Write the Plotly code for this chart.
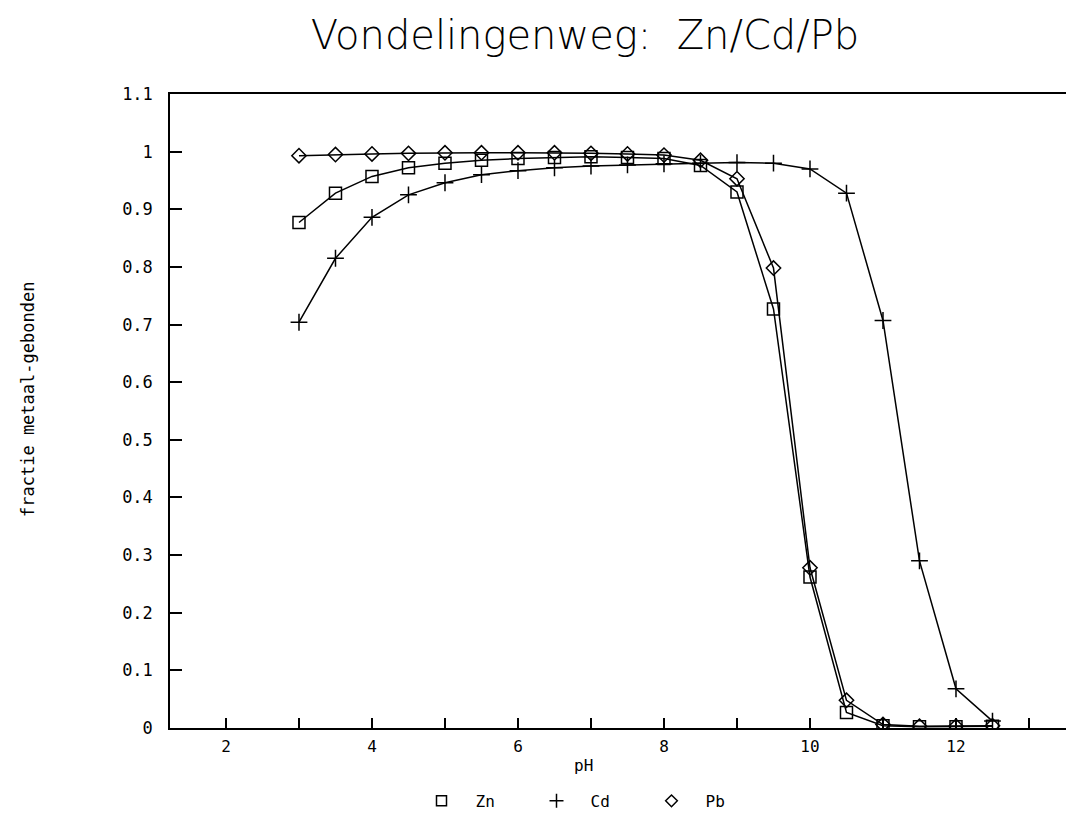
import plotly.graph_objects as go

ph = [3, 3.5, 4, 4.5, 5, 5.5, 6, 6.5, 7, 7.5, 8, 8.5, 9, 9.5, 10, 10.5, 11, 11.5, 12, 12.5]
zn = [0.877, 0.928, 0.957, 0.972, 0.980, 0.985, 0.988, 0.990, 0.991, 0.990, 0.988, 0.976,
      0.930, 0.727, 0.262, 0.027, 0.004, 0.002, 0.002, 0.003]
cd = [0.704, 0.815, 0.886, 0.925, 0.946, 0.960, 0.967, 0.972, 0.975, 0.977, 0.979, 0.980,
      0.981, 0.980, 0.970, 0.928, 0.707, 0.290, 0.068, 0.012]
pb = [0.993, 0.995, 0.996, 0.997, 0.998, 0.998, 0.998, 0.998, 0.997, 0.996, 0.994, 0.985,
      0.953, 0.798, 0.278, 0.048, 0.006, 0.003, 0.003, 0.004]

series = [("Zn", zn, "square-open", 12), ("Cd", cd, "cross-thin-open", 12), ("Pb", pb, "diamond-open", 11)]

FONT = "DejaVu Sans Mono"
fig = go.Figure()
for name, vals, sym, size in series:
    fig.add_trace(go.Scatter(
        x=ph, y=vals, mode="lines+markers", name=name, showlegend=False,
        line=dict(color="black", width=1.5),
        marker=dict(symbol=sym, size=size, color="black", line=dict(color="black", width=1.5)),
    ))
    fig.add_trace(go.Scatter(
        x=[None], y=[None], mode="markers", name=name, showlegend=True,
        marker=dict(symbol=sym, size=size - 2, color="black", line=dict(color="black", width=1.5)),
    ))

fig.update_layout(
    width=1074, height=834,
    margin=dict(l=170, r=8, t=94, b=106),
    paper_bgcolor="white", plot_bgcolor="white",
    font=dict(family=FONT, color="black", size=16),
    title=dict(text="Vondelingenweg:  Zn/Cd/Pb", x=585/1074, xanchor="center",
               y=1 - 35/834, yanchor="middle",
               font=dict(family="DejaVu Sans", size=40, color="black", weight=300)),
    showlegend=True,
    legend=dict(orientation="h", x=(580 - 170) / 896, xanchor="center", y=-0.115, yanchor="middle",
                font=dict(family=FONT, size=16), itemwidth=58, entrywidth=42,
                bgcolor="rgba(0,0,0,0)"),
    xaxis=dict(range=[1.233, 13.507], tick0=0, dtick=2, ticks="inside", ticklen=10,
               tickwidth=1.5, tickcolor="black", showline=True, linecolor="black", linewidth=1.5,
               mirror=True, showgrid=False, zeroline=False, ticklabelstandoff=3,
               tickfont=dict(family=FONT, size=16),
               minor=dict(dtick=1, ticks="inside", ticklen=10, tickwidth=1.5, tickcolor="black",
                          showgrid=False)),
    yaxis=dict(range=[0, 1.1], dtick=0.1, ticks="inside", ticklen=12, tickwidth=1.5,
               tickcolor="black", showline=True, linecolor="black", linewidth=1.5,
               showgrid=False, zeroline=False, ticklabelstandoff=12,
               tickfont=dict(family=FONT, size=17)),
    annotations=[
        dict(text="pH", xref="paper", yref="paper", x=(583 - 170) / 896, y=-(765 - 728) / 634,
             xanchor="center", yanchor="middle", showarrow=False, font=dict(family=FONT, size=16)),
        dict(text="fractie metaal-gebonden", xref="paper", yref="paper",
             x=(28 - 170) / 896, y=(728 - 400) / 634, textangle=-90,
             xanchor="center", yanchor="middle", showarrow=False, font=dict(family=FONT, size=17)),
    ],
)

fig.write_html("out.html")
